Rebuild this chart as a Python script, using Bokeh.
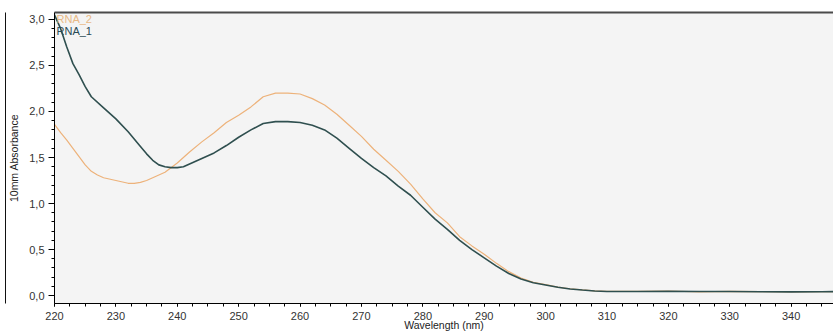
from bokeh.plotting import figure
from bokeh.models import SingleIntervalTicker, CustomJSTickFormatter, Label, Range1d, LinearAxis, FixedTicker
from bokeh.embed import file_html
from bokeh.resources import INLINE

# ---- data ----
wl_1 = [220, 221, 222, 223, 224, 225, 226, 228, 230, 232, 234, 235, 236, 237, 238, 239, 240,
        241, 242, 244, 246, 248, 250, 252, 254, 256, 258, 260, 262, 264, 266, 268, 270,
        272, 274, 276, 278, 280, 282, 284, 286, 288, 290, 292, 294, 296, 298, 300, 302,
        304, 306, 308, 310, 315, 320, 325, 330, 335, 340, 345, 347]
rna_1 = [3.05, 2.90, 2.70, 2.52, 2.40, 2.27, 2.16, 2.04, 1.92, 1.78, 1.62, 1.54, 1.47, 1.42, 1.40, 1.39, 1.39,
         1.40, 1.43, 1.49, 1.55, 1.63, 1.72, 1.80, 1.87, 1.89, 1.89, 1.88, 1.85, 1.80, 1.71, 1.60, 1.49,
         1.39, 1.30, 1.19, 1.09, 0.96, 0.83, 0.72, 0.60, 0.50, 0.41, 0.32, 0.24, 0.18, 0.14, 0.115, 0.09,
         0.072, 0.06, 0.05, 0.045, 0.044, 0.046, 0.044, 0.045, 0.042, 0.040, 0.042, 0.043]

wl_2 = [220, 221, 222, 223, 224, 225, 226, 227, 228, 230, 232, 233, 234, 235, 236, 238, 240,
        242, 244, 246, 248, 250, 252, 254, 256, 258, 260, 262, 264, 266, 268, 270, 272,
        274, 276, 278, 280, 282, 284, 286, 288, 290, 292, 294, 296, 298, 300, 302, 304,
        306, 308, 310, 315, 320, 325, 330, 335, 340, 345, 347]
rna_2 = [1.86, 1.77, 1.69, 1.60, 1.51, 1.42, 1.35, 1.31, 1.28, 1.25, 1.22, 1.22, 1.23, 1.25, 1.28, 1.34, 1.44,
         1.56, 1.67, 1.77, 1.88, 1.96, 2.05, 2.16, 2.20, 2.20, 2.19, 2.14, 2.07, 1.97, 1.85, 1.73, 1.59,
         1.47, 1.35, 1.21, 1.05, 0.90, 0.79, 0.64, 0.54, 0.45, 0.35, 0.26, 0.19, 0.145, 0.12, 0.092, 0.074,
         0.061, 0.051, 0.046, 0.045, 0.050, 0.040, 0.046, 0.043, 0.041, 0.044, 0.043]

series_names = ["RNA_2", "RNA_1"]
x_label = "Wavelength (nm)"
y_label = "10mm Absorbance"

p = figure(width=833, height=333, output_backend="svg", toolbar_location=None,
           x_range=Range1d(220, 346.9), y_range=Range1d(-0.086, 3.0755),
           min_border_left=54, min_border_top=12, min_border_right=0, min_border_bottom=28)
p.background_fill_color = "#f4f4f4"
p.border_fill_color = "white"
p.outline_line_color = None
p.grid.visible = False

p.line(wl_2, rna_2, line_color="#EDB27A", line_width=1.2)
p.line(wl_1, rna_1, line_color="#2F4F4F", line_width=1.6)

font = "Liberation Sans"
# y axis
ya = p.yaxis[0]
ya.ticker = SingleIntervalTicker(interval=0.5, num_minor_ticks=5)
ya.formatter = CustomJSTickFormatter(code="return tick.toFixed(1).replace('.', ',');")
ya.major_tick_out = 6
ya.major_tick_in = 0
ya.minor_tick_out = 3
ya.minor_tick_in = 0
ya.major_label_standoff = 4
ya.axis_label = y_label
ya.axis_label_standoff = 6
ya.axis_label_text_font = font
ya.axis_label_text_font_size = "10.5px"
ya.axis_label_text_font_style = "normal"
ya.axis_label_text_color = "#222"

# x axis
xa = p.xaxis[0]
xa.ticker = SingleIntervalTicker(interval=10, num_minor_ticks=4)
xa.major_tick_out = 3
xa.major_tick_in = 0
xa.minor_tick_out = 3
xa.minor_tick_in = 0
xa.major_label_standoff = 5
xa.axis_label = x_label
xa.axis_label_standoff = -4
xa.axis_label_text_font = font
xa.axis_label_text_font_size = "10.5px"
xa.axis_label_text_font_style = "normal"
xa.axis_label_text_color = "#222"

for ax in (xa, ya):
    ax.axis_line_color = "black"
    ax.major_tick_line_color = "black"
    ax.minor_tick_line_color = "black"
    ax.major_label_text_font = font
    ax.major_label_text_font_size = "11px"
    ax.major_label_text_color = "#333"

# outer chart border: bare axes used only for their lines
def bare_axis():
    return LinearAxis(ticker=FixedTicker(ticks=[]), major_tick_out=0, minor_tick_out=0,
                      major_tick_in=0, minor_tick_in=0, major_label_text_font_size="0px")

left_border = bare_axis()
left_border.axis_line_color = "#111"
p.add_layout(left_border, "left")

top_border = bare_axis()
top_border.axis_line_color = "#4a4a4a"
top_border.axis_line_width = 2
p.add_layout(top_border, "above")

p.add_layout(Label(x=220.33, y=3.01, text=series_names[0], text_baseline="middle",
                   text_font=font, text_font_size="11px", text_color="#E9B985"))
p.add_layout(Label(x=220.33, y=2.876, text=series_names[1], text_baseline="middle",
                   text_font=font, text_font_size="11px", text_color="#2A4A55"))

open("out.html", "w").write(file_html(p, INLINE))
